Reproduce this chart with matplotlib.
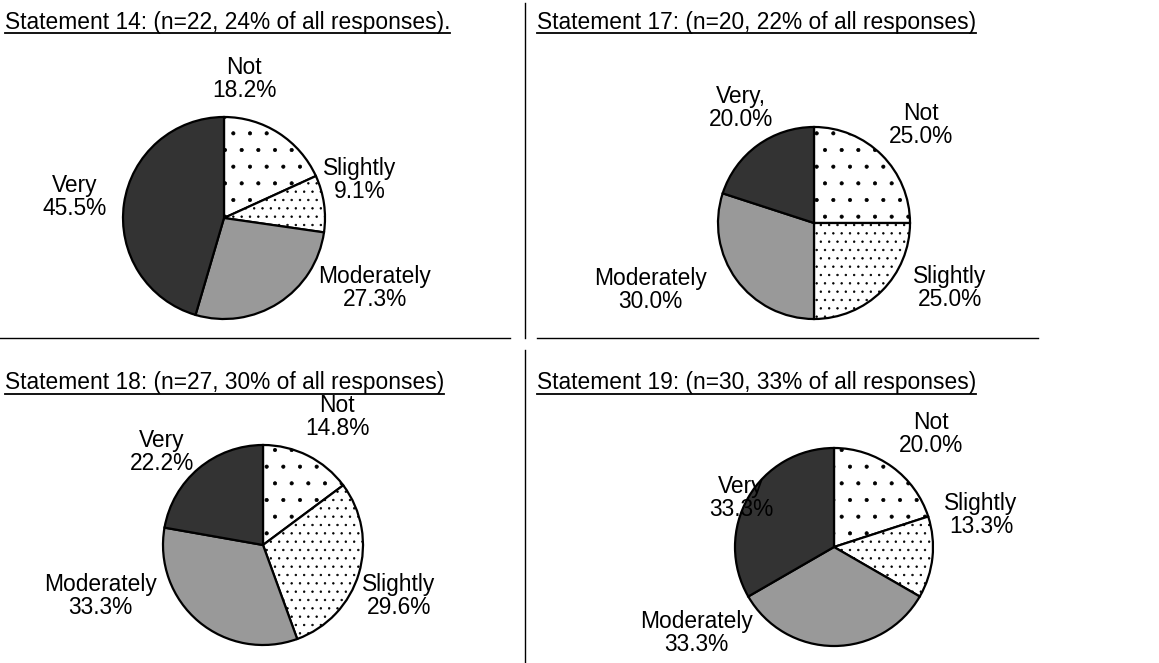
import matplotlib
matplotlib.use("Agg")
import matplotlib.pyplot as plt
from matplotlib.lines import Line2D

plt.rcParams["font.family"] = ["Liberation Sans", "DejaVu Sans"]
plt.rcParams["hatch.linewidth"] = 0.5

W, H = 1159, 663

# Response categories (clockwise from 12 o'clock)
categories = ["Not", "Slightly", "Moderately", "Very"]

titles = [
    "Statement 14: (n=22, 24% of all responses).",
    "Statement 17: (n=20, 22% of all responses)",
    "Statement 18: (n=27, 30% of all responses)",
    "Statement 19: (n=30, 33% of all responses)",
]

# Percent of responses per category
s14 = [18.2, 9.1, 27.3, 45.5]
s17 = [25.0, 25.0, 30.0, 20.0]
s18 = [14.8, 29.6, 33.3, 22.2]
s19 = [20.0, 13.3, 33.3, 33.3]

label_names = [
    ["Not", "Slightly", "Moderately", "Very"],
    ["Not", "Slightly", "Moderately", "Very,"],
    ["Not", "Slightly", "Moderately", "Very"],
    ["Not", "Slightly", "Moderately", "Very"],
]

# Slice styling
face_colors = ["white", "white", "#999999", "#333333"]
hatches = [".", "..", None, None]

# Panel layout in pixels: pie centre, radius, title anchor
centers = [(224, 218), (814, 223), (263, 545), (834, 547)]
radii = [101, 96, 100, 99]
title_pos = [(5, 22), (537, 22), (5, 383), (537, 383)]

# Label offsets from pie centre (pixels, y down)
label_offsets = [
    [(20, -139), (136, -38), (151, 70), (-149, -21)],
    [(107, -98), (136, 65), (-164, 67), (-73, -115)],
    [(74, -128), (136, 51), (-163, 51), (-101, -93)],
    [(97, -113), (147, -32), (-138, 86), (-93, -49)],
]

series = [s14, s17, s18, s19]

fig = plt.figure(figsize=(W / 100, H / 100), dpi=100)
ax = fig.add_axes([0, 0, 1, 1])

FS = 16.4

for vals, names, (cx, cy), r, offs in zip(series, label_names, centers, radii, label_offsets):
    wedges, _ = ax.pie(
        vals,
        center=(cx, H - cy),
        radius=r,
        startangle=90,
        counterclock=False,
        colors=face_colors,
        wedgeprops=dict(edgecolor="black", linewidth=1.6),
        frame=True,
    )
    for w, h in zip(wedges, hatches):
        if h:
            w.set_hatch(h)
    for name, v, (dx, dy) in zip(names, vals, offs):
        ax.text(cx + dx, H - (cy + dy), f"{name}\n{v:.1f}%", ha="center", va="center",
                fontsize=FS, linespacing=1.05)

ax.set_xlim(0, W)
ax.set_ylim(0, H)
ax.set_aspect("equal")
ax.axis("off")

# Underlined panel titles
title_texts = []
for t, (tx, ty) in zip(titles, title_pos):
    title_texts.append(ax.text(tx, H - ty, t, ha="left", va="center", fontsize=FS))

fig.canvas.draw()
renderer = fig.canvas.get_renderer()
inv = fig.transFigure.inverted()
for txt in title_texts:
    bb = txt.get_window_extent(renderer)
    (x0, y0) = inv.transform((bb.x0, bb.y0 + 1))
    (x1, _) = inv.transform((bb.x1, bb.y0 + 1))
    fig.add_artist(Line2D([x0, x1], [y0, y0], transform=fig.transFigure,
                          color="black", linewidth=1.3))

# Panel divider lines
def fline(xs, ys):
    fig.add_artist(Line2D([x / W for x in xs], [1 - y / H for y in ys],
                          transform=fig.transFigure, color="black", linewidth=1.0))

fline([525, 525], [3, 338])
fline([525, 525], [350, 663])
fline([0, 510], [338, 338])
fline([537, 1038], [338, 338])

fig.savefig("out.png", dpi=100)
